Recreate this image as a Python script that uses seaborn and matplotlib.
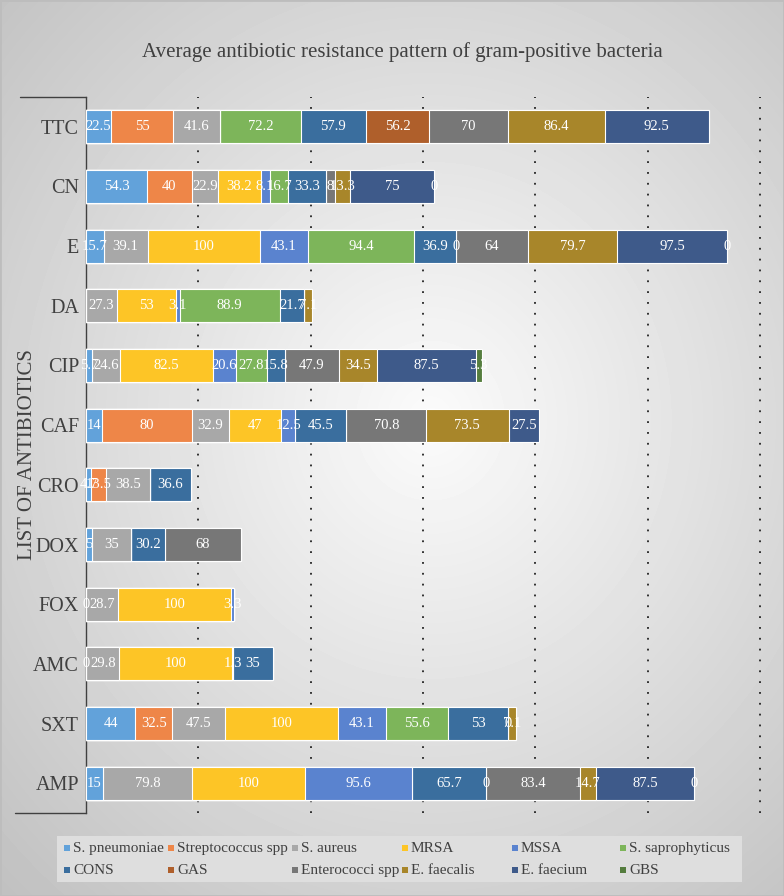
import numpy as np
import pandas as pd
import matplotlib
matplotlib.use('Agg')
import matplotlib.pyplot as plt
from matplotlib.patches import Rectangle
from matplotlib.lines import Line2D
import seaborn as sns

nan = np.nan

# categories, top to bottom
antibiotics = ['TTC', 'CN', 'E', 'DA', 'CIP', 'CAF', 'CRO', 'DOX', 'FOX', 'AMC', 'SXT', 'AMP']

series_names = ['S. pneumoniae', 'Streptococcus spp', 'S. aureus', 'MRSA', 'MSSA',
                'S. saprophyticus', 'CONS', 'GAS', 'Enterococci spp', 'E. faecalis',
                'E. faecium', 'GBS']

# resistance (%) per organism, same order as antibiotics (nan = not tested)
s_pneumoniae = [22.5, 54.3, 15.7, nan, 5.7, 14, 4.7, 5, 0, 0, 44, 15]
strep_spp = [55, 40, nan, nan, nan, 80, 13.5, nan, nan, nan, 32.5, nan]
s_aureus = [41.6, 22.9, 39.1, 27.3, 24.6, 32.9, 38.5, 35, 28.7, 29.8, 47.5, 79.8]
mrsa = [nan, 38.2, 100, 53, 82.5, 47, nan, nan, 100, 100, 100, 100]
mssa = [nan, 8.1, 43.1, 3.1, 20.6, 12.5, nan, nan, 3.3, 1.3, 43.1, 95.6]
s_saprophyticus = [72.2, 16.7, 94.4, 88.9, 27.8, nan, nan, nan, nan, nan, 55.6, nan]
cons = [57.9, 33.3, 36.9, 21.7, 15.8, 45.5, 36.6, 30.2, nan, 35, 53, 65.7]
gas = [56.2, nan, 0, nan, nan, nan, nan, nan, nan, nan, nan, 0]
enterococci = [70, 8, 64, nan, 47.9, 70.8, nan, 68, nan, nan, 0, 83.4]
e_faecalis = [86.4, 13.3, 79.7, 7.1, 34.5, 73.5, nan, nan, nan, nan, 7.1, 14.7]
e_faecium = [92.5, 75, 97.5, nan, 87.5, 27.5, nan, nan, nan, nan, nan, 87.5]
gbs = [nan, 0, 0, nan, 5.3, nan, nan, nan, nan, nan, nan, 0]

colors = ['#62A2DA', '#EE8648', '#A8A8A8', '#FDC526', '#5A83CF', '#7DB55A',
          '#3A6E9E', '#AF5F2B', '#777777', '#A8862A', '#3E5A8A', '#557D3E']

df = pd.DataFrame({'antibiotic': antibiotics})
for name, vals in zip(series_names, [s_pneumoniae, strep_spp, s_aureus, mrsa, mssa,
                                     s_saprophyticus, cons, gas, enterococci,
                                     e_faecalis, e_faecium, gbs]):
    df[name] = vals

cum = df[series_names].fillna(0).cumsum(axis=1)

sns.set_theme(style='white')
plt.rcParams['font.family'] = ['Liberation Serif', 'DejaVu Serif']

W, H = 784, 896
fig = plt.figure(figsize=(W / 100, H / 100), dpi=100)

# radial grey background
bg = fig.add_axes([0, 0, 1, 1], zorder=-10)
yy, xx = np.mgrid[0:H, 0:W]
r = np.sqrt(((xx - 430) / 560) ** 2 + ((yy - 420) / 600) ** 2)
shade = np.clip(0.985 - 0.21 * r, 0, 1)
bg.imshow(shade, cmap='gray', vmin=0, vmax=1, aspect='auto')
bg.axis('off')

ax = fig.add_axes([86 / W, 1 - 813 / H, (782 - 86) / W, (813 - 97) / H])
ax.set_facecolor('none')

# stacked bars: draw cumulative totals from the last series back to the first
for name, color in reversed(list(zip(series_names, colors))):
    sns.barplot(x=cum[name], y=df['antibiotic'], orient='h', color=color,
                saturation=1, width=0.55, edgecolor='white', linewidth=0.8,
                errorbar=None, ax=ax, zorder=3)

for i in range(len(antibiotics)):
    for name in series_names:
        v = df[name][i]
        if np.isnan(v):
            continue
        ax.text(cum[name][i] - v / 2, i, f'{v:g}', ha='center', va='center',
                color='white', fontsize=10.5, zorder=5)

ax.set_xlim(0, 696 / 1.1233)
ax.set_ylim(len(antibiotics) - 0.5, -0.5)
ax.set_xticks([100, 200, 300, 400, 500, 600])
ax.set_xticklabels([])
ax.xaxis.grid(True, linestyle=(0, (1, 5)), color='#222222', linewidth=1.3)
ax.yaxis.grid(False)
ax.set_axisbelow(True)
ax.tick_params(axis='both', length=0)
ax.tick_params(axis='y', pad=5, labelsize=14.5, labelcolor='#404040')
ax.set_xlabel('')
ax.set_ylabel('')
for s in ['top', 'right', 'bottom']:
    ax.spines[s].set_visible(False)
ax.spines['left'].set_color('#404040')
ax.spines['left'].set_linewidth(1)

# bracket of the category axis
fig.add_artist(Line2D([20 / W, 86 / W], [1 - 97 / H] * 2, color='#404040', lw=1))
fig.add_artist(Line2D([15 / W, 86 / W], [1 - 813 / H] * 2, color='#404040', lw=1))

fig.text(28 / W, 1 - 455 / H, 'LIST OF ANTIBIOTICS', rotation=90, ha='center',
         va='center', fontsize=15, color='#404040')

fig.text(402 / W, 1 - 52 / H, 'Average antibiotic resistance pattern of gram-positive bacteria',
         ha='center', va='center', fontsize=15, color='#404040')

# legend laid out like the original (six columns, filled row by row)
legend_cols = [64, 168, 292, 402, 512, 620]
fig.add_artist(Rectangle((57 / W, 1 - 882 / H), (742 - 57) / W, 46 / H,
                         transform=fig.transFigure, facecolor='#DEDEDE',
                         edgecolor='none', zorder=1))
for k, (name, color) in enumerate(zip(series_names, colors)):
    x0 = legend_cols[k % 6]
    yc = 848 + 22 * (k // 6)
    fig.add_artist(Rectangle((x0 / W, 1 - (yc + 3) / H), 6 / W, 6 / H,
                             transform=fig.transFigure, facecolor=color,
                             edgecolor='none', zorder=2))
    fig.text((x0 + 9) / W, 1 - yc / H, name, ha='left', va='center',
             fontsize=11, color='#404040', zorder=3)

fig.add_artist(Rectangle((0, 0), 1, 1, transform=fig.transFigure, fill=False,
                         edgecolor='#BDBDBD', lw=2))

fig.savefig('out.png', dpi=100)
